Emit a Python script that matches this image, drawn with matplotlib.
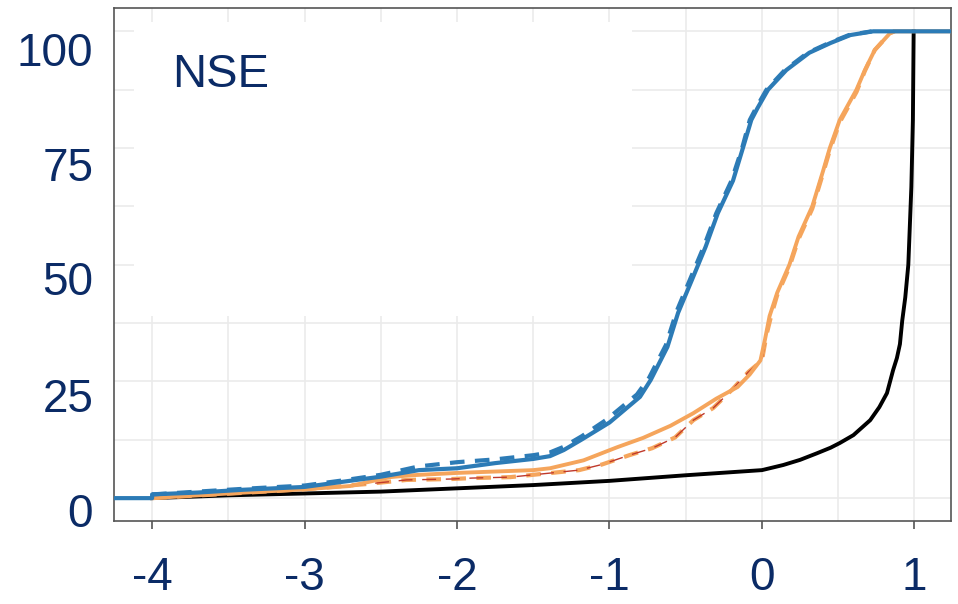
import matplotlib.pyplot as plt
import matplotlib.transforms as mtransforms
from matplotlib.patches import Rectangle

# CDF curves of NSE (x = NSE, y = cumulative %)
blue_x = [-4.25, -4.0, -4.0, -3.7, -3.4, -3.0, -2.75, -2.5, -2.25, -2.0, -1.75, -1.5, -1.39,
          -1.3, -1.18, -1.0, -0.8, -0.73, -0.62, -0.55, -0.46, -0.37, -0.29, -0.19, -0.125,
          -0.07, -0.03, 0.04, 0.16, 0.31, 0.45, 0.58, 0.73, 1.25]
blue_y = [0, 0, 0.8, 1.2, 1.8, 2.4, 3.5, 4.6, 6.0, 6.4, 7.5, 8.4, 9.0,
          10.3, 12.6, 16.2, 21.7, 25.3, 32.4, 39.7, 46.7, 53.8, 61, 68, 75,
          81, 83.5, 87.5, 91.7, 95.4, 97.5, 99.2, 100, 100]

blue2_x = [-4.0, -3.7, -3.4, -3.0, -2.75, -2.5, -2.25, -2.0, -1.75, -1.5, -1.39,
           -1.3, -1.18, -1.02, -0.82, -0.74, -0.63, -0.56, -0.47, -0.38, -0.3, -0.2, -0.13,
           -0.08, -0.04, 0.03, 0.15, 0.3, 0.44, 0.57, 0.72]
blue2_y = [0.8, 1.4, 2.0, 2.7, 3.8, 5.0, 6.8, 7.7, 8.3, 9.2, 9.8,
           11.0, 13.3, 16.8, 22.2, 25.8, 32.8, 40, 47, 54, 61, 68, 75,
           81, 83.5, 87.5, 91.7, 95.4, 97.5, 99.2, 100]

orange_x = [-4.0, -3.5, -3.0, -2.7, -2.44, -2.3, -2.0, -1.5, -1.39, -1.17, -0.95, -0.78,
            -0.6, -0.45, -0.3, -0.16, -0.08, -0.01, 0.02, 0.05, 0.1, 0.18, 0.24, 0.33,
            0.4, 0.445, 0.51, 0.62, 0.675, 0.74, 0.84, 0.87, 1.25]
orange_y = [0, 1.0, 1.9, 2.6, 4.5, 4.9, 5.4, 6.0, 6.4, 8.1, 10.9, 12.9,
            15.5, 18.2, 21.3, 23.8, 26.5, 29.5, 34, 39, 44, 50, 56, 62.5,
            70, 75, 81, 87.5, 91.7, 96, 99.6, 100, 100]

orange2_x = [-4.0, -3.0, -2.6, -2.33, -2.03, -1.9, -1.65, -1.2, -1.05, -0.87, -0.72,
             -0.57, -0.45, -0.32, -0.2, -0.09, 0.0, 0.03, 0.06, 0.1, 0.18, 0.24, 0.33,
             0.4, 0.445, 0.51, 0.62, 0.675, 0.74, 0.84, 0.87]
orange2_y = [0, 1.9, 3.0, 3.9, 4.1, 4.3, 4.5, 6.0, 7.2, 9.2, 10.7,
             13.0, 16.7, 19.3, 23.1, 27.0, 29.5, 35, 39, 43.5, 49.5, 55.5, 62,
             69.5, 74.5, 80.5, 87, 91.5, 96, 99.6, 100]

red_x = [-3.0, -2.6, -2.33, -2.03, -1.9, -1.65, -1.2, -1.05, -0.87, -0.72,
         -0.57, -0.45, -0.32, -0.2, -0.09, 0.0, 0.03]
red_y = [1.9, 3.0, 3.9, 4.1, 4.3, 4.5, 6.0, 7.2, 9.2, 10.7,
         13.0, 16.7, 19.3, 23.1, 27.0, 29.5, 35]

black_x = [-4.0, -3.5, -3.0, -2.5, -2.0, -1.5, -1.0, -0.5, 0.0, 0.14, 0.25, 0.36, 0.45,
           0.51, 0.6, 0.71, 0.77, 0.82, 0.86, 0.885, 0.905, 0.92, 0.94, 0.96, 0.98,
           0.99, 0.995]
black_y = [0, 0.6, 1.0, 1.4, 2.1, 2.8, 3.7, 4.9, 6.0, 7.1, 8.2, 9.6, 10.8,
           11.8, 13.5, 16.7, 19.5, 22.5, 27.4, 30, 33, 38, 43, 50, 66.7,
           81, 100]

x_ticks = [-4, -3, -2, -1, 0, 1]
y_ticks = [0, 25, 50, 75, 100]

navy = '#0b2b66'
plt.rcParams['font.family'] = ['Liberation Sans', 'DejaVu Sans']

fig = plt.figure(figsize=(9.58, 6.04), dpi=100)
ax = fig.add_axes([0.119, 0.1374, 0.8737, 0.8494])

ax.set_xlim(-4.25, 1.24)
ax.set_ylim(-4.9, 105)
ax.set_axisbelow(True)
ax.set_xticks(x_ticks)
ax.set_xticks([-4.0 + 0.5 * i for i in range(11)], minor=True)
ax.set_yticks(y_ticks)
ax.set_yticks([12.5 * i for i in range(9)], minor=True)
ax.grid(True, which='both', color='#ebebeb', lw=1.2)

# blank patch over the upper left (removed legend)
ax.add_patch(Rectangle((-4.12, 39.0), 3.27, 63.0, facecolor='white', edgecolor='none', zorder=1))

ax.plot(black_x, black_y, color='black', lw=2.8, zorder=3)
ax.plot(orange2_x, orange2_y, color='#f5a55c', lw=3.0, ls=(0, (3.5, 2.5)), zorder=4)
ax.plot(red_x, red_y, color='#c0392b', lw=1.0, ls=(0, (10, 7)), zorder=4)
ax.plot(orange_x, orange_y, color='#f5a55c', lw=2.8, zorder=5)
ax.plot(blue2_x, blue2_y, color='#2c7bb6', lw=3.0, ls=(0, (3.5, 2.5)), zorder=6)
ax.plot(blue_x, blue_y, color='#2c7bb6', lw=3.0, zorder=7)

ax.text(-3.87, 90.7, 'NSE', fontsize=34, color=navy, va='center', ha='left')

for s in ax.spines.values():
    s.set_color('#555555')
    s.set_linewidth(1.2)

ax.tick_params(axis='x', which='major', length=6, width=1.2, color='#555555',
               labelsize=33, labelcolor=navy, pad=19)
ax.tick_params(axis='y', which='major', length=0, labelsize=33, labelcolor=navy, pad=15)
ax.tick_params(which='minor', length=0)
ax.set_xticklabels([str(v) for v in x_ticks])
ax.set_yticklabels([str(v) for v in y_ticks])

shifts = [12, 14, 13, 16, 18]
for lab, dy in zip(ax.get_yticklabels(), shifts):
    off = mtransforms.ScaledTranslation(0, -dy / 100, fig.dpi_scale_trans)
    lab.set_transform(lab.get_transform() + off)

fig.savefig('out.png', dpi=100)
